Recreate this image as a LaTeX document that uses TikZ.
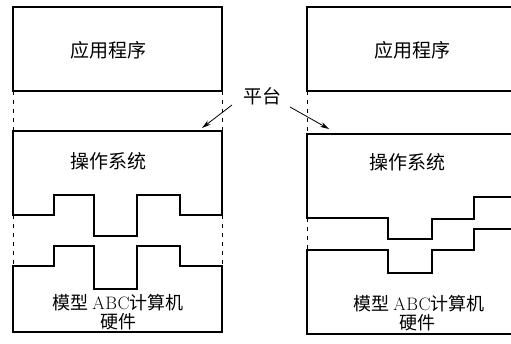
\documentclass[tikz,border=0pt]{standalone}
\usepackage{fontspec}
\newfontfamily\cjk{Noto Sans CJK SC}
\usetikzlibrary{arrows.meta}
\begin{document}
\begin{tikzpicture}[x=1pt,y=-1pt,
  wall/.style={line width=1.2pt, line join=miter},
  gap/.style={line width=0.6pt, dash pattern=on 4pt off 5pt},
  lbl/.style={font=\fontsize{19}{21}\selectfont\cjk, inner sep=0pt},
  hwlbl/.style={lbl, font=\fontsize{18}{20}\selectfont\cjk, text height=13.5pt, text depth=0.5pt},
  ptr/.style={line width=0.8pt, -{Stealth[length=9pt,width=5pt]}}]
\useasboundingbox (0,0) rectangle (511,344);

% ---------- left stack ----------
\draw[wall] (13,7) rectangle (222,91);
\draw[gap] (13,91) -- (13,131) (222,91) -- (222,131);
\draw[wall] (13,215) -- (13,131) -- (222,131) -- (222,215) -- (180,215) -- (180,195)
  -- (137,195) -- (137,236) -- (94,236) -- (94,195) -- (54,195) -- (54,215) -- cycle;
\draw[gap] (13,215) -- (13,266) (222,215) -- (222,266);
\draw[wall] (13,266) -- (54,266) -- (54,246) -- (94,246) -- (94,289) -- (137,289)
  -- (137,246) -- (180,246) -- (180,266) -- (222,266) -- (222,332) -- (13,332) -- cycle;

\node[lbl] (appL) at (108,50) {应用程序};
\node[lbl] (osL) at (108,161) {操作系统};
\node[hwlbl] (hwL1) at (118,303) {模型 {\rmfamily A\kern0.5pt B\kern0.5pt C}计算机};
\node[hwlbl] (hwL2) at (118,322) {硬件};

% ---------- right stack ----------
\draw[wall] (511,7) -- (307,7) -- (307,91) -- (511,91);
\draw[gap] (307,91) -- (307,134);
\draw[wall] (511,134) -- (307,134) -- (307,218) -- (388,218) -- (388,239) -- (432,239)
  -- (432,219) -- (474,219) -- (474,197) -- (511,197);
\draw[gap] (307,218) -- (307,250);
\draw[wall] (511,229) -- (474,229) -- (474,250) -- (432,250) -- (432,273) -- (388,273)
  -- (388,250) -- (307,250) -- (307,334) -- (511,334);

\node[lbl] (appR) at (412,50) {应用程序};
\node[lbl] (osR) at (407,162) {操作系统};
\node[hwlbl] (hwR1) at (419,304) {模型 {\rmfamily A\kern0.5pt B\kern0.5pt C}计算机};
\node[hwlbl] (hwR2) at (417,323) {硬件};

% ---------- platform label ----------
\node[lbl] (plat) at (262,96) {平台};
\coordinate (pL0) at (232,105);
\coordinate (pL1) at (202,128);
\coordinate (pR0) at (290,107);
\coordinate (pR1) at (329,129);
\draw[ptr] (pL0) -- (pL1);
\draw[ptr] (pR0) -- (pR1);
\end{tikzpicture}
\end{document}
